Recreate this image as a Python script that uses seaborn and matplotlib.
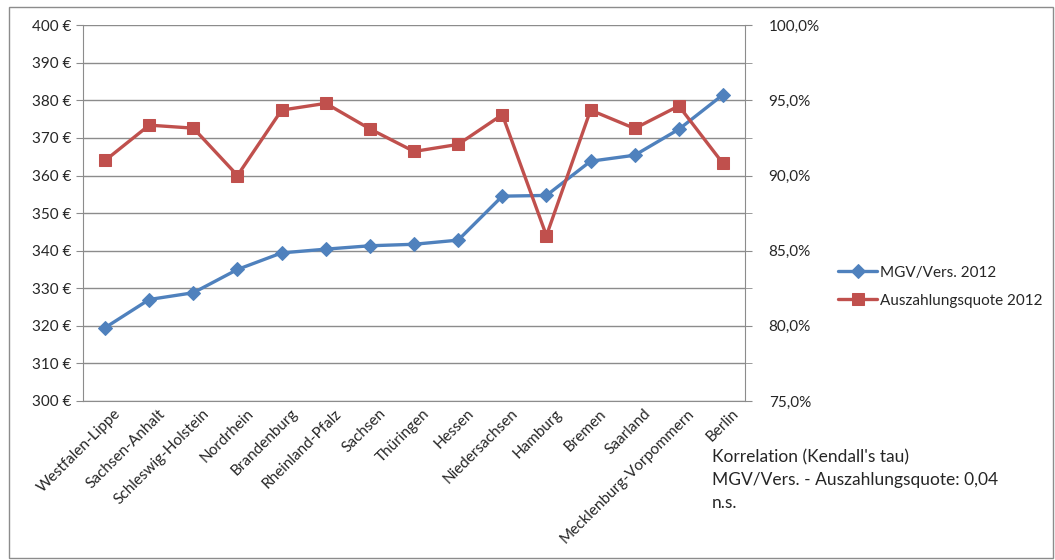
import numpy as np
import pandas as pd
import matplotlib.pyplot as plt
import seaborn as sns
from matplotlib.ticker import FuncFormatter, MultipleLocator, FixedLocator
from matplotlib.patches import Rectangle

# data
regions = ['Westfalen-Lippe', 'Sachsen-Anhalt', 'Schleswig-Holstein', 'Nordrhein',
           'Brandenburg', 'Rheinland-Pfalz', 'Sachsen', 'Thüringen', 'Hessen',
           'Niedersachsen', 'Hamburg', 'Bremen', 'Saarland',
           'Mecklenburg-Vorpommern', 'Berlin']
mgv = [319.5, 327.0, 328.8, 335.0, 339.4, 340.4, 341.3, 341.7, 342.8,
       354.5, 354.7, 363.8, 365.4, 372.3, 381.5]
quote = [0.910, 0.9335, 0.9315, 0.900, 0.9435, 0.948, 0.931, 0.916, 0.9207,
         0.9405, 0.860, 0.9435, 0.9313, 0.9463, 0.908]

df = pd.DataFrame({'pos': np.arange(len(regions)), 'region': regions,
                   'mgv': mgv, 'quote': quote})

blue = '#4F81BD'
red = '#C0504D'
grid = '#8C8C8C'

sns.set_style('white')
plt.rcParams['font.family'] = ['Lato', 'DejaVu Sans']
plt.rcParams['font.size'] = 11

fig = plt.figure(figsize=(10.55, 5.6), dpi=100)
ax = fig.add_axes([0.0787, 0.284, 0.6275, 0.671])
ax2 = ax.twinx()

sns.lineplot(data=df, x='pos', y='mgv', ax=ax, color=blue, linewidth=2.4,
             marker='D', markersize=7, markeredgecolor=blue,
             label='MGV/Vers. 2012', legend=False)
sns.lineplot(data=df, x='pos', y='quote', ax=ax2, color=red, linewidth=2.4,
             marker='s', markersize=9, markeredgecolor=red,
             label='Auszahlungsquote 2012', legend=False)

ax.set_xlim(-0.5, len(regions) - 0.5)
ax.set_ylim(300, 400)
ax2.set_ylim(0.75, 1.0)

ax.yaxis.set_major_locator(MultipleLocator(10))
ax.yaxis.set_major_formatter(FuncFormatter(lambda v, p: f'{v:.0f} €'))
ax2.yaxis.set_major_locator(MultipleLocator(0.05))
ax2.yaxis.set_minor_locator(MultipleLocator(0.025))
ax2.yaxis.set_major_formatter(
    FuncFormatter(lambda v, p: f'{v * 100:.1f}%'.replace('.', ',')))

ax.set_xticks(df['pos'] + 0.2)
ax.set_xticklabels(regions, rotation=45, ha='right', rotation_mode='anchor')
ax.xaxis.set_minor_locator(FixedLocator(np.arange(-0.5, len(regions), 1.0)))
ax.tick_params(axis='x', which='major', length=0, pad=4, labelsize=11)
ax.tick_params(axis='x', which='minor', length=5, color=grid, direction='out')
ax.tick_params(axis='y', length=5, color=grid, direction='out', left=True,
               labelsize=11)
ax2.tick_params(axis='y', which='both', length=5, color=grid, direction='out',
                right=True, pad=12, labelsize=11)

ax.set_xlabel('')
ax.set_ylabel('')
ax2.set_ylabel('')

ax.grid(axis='y', color=grid, linewidth=1)
ax.set_axisbelow(True)
for sp in ['left', 'bottom']:
    ax.spines[sp].set_color(grid)
ax.spines['top'].set_visible(False)
ax.spines['right'].set_visible(False)
ax2.spines['top'].set_visible(False)
ax2.spines['left'].set_visible(False)
ax2.spines['bottom'].set_visible(False)
ax2.spines['right'].set_color(grid)

h1, l1 = ax.get_legend_handles_labels()
h2, l2 = ax2.get_legend_handles_labels()
fig.legend(h1 + h2, l1 + l2, loc='upper left', bbox_to_anchor=(0.781, 0.55),
           frameon=False, fontsize=11, handlelength=2.6, labelspacing=0.9,
           handletextpad=0.15)

fig.text(0.675, 0.197,
         "Korrelation (Kendall's tau)\nMGV/Vers. - Auszahlungsquote: 0,04\nn.s.",
         fontsize=12.5, va='top', ha='left', linespacing=1.5)

fig.patches.append(Rectangle((0.0085, 0.004), 0.99, 0.984, transform=fig.transFigure,
                             fill=False, edgecolor='#8C8C8C', linewidth=1))

fig.savefig('out.png', dpi=100)
